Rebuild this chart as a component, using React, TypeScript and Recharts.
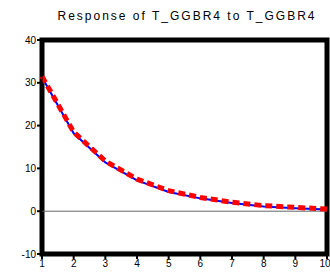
import React from 'react';
import { LineChart, Line, XAxis, YAxis, ReferenceLine, ReferenceArea } from 'recharts';

const periods = [1, 2, 3, 4, 5, 6, 7, 8, 9, 10];
const response = [31.3, 18.2, 11.4, 7.2, 4.5, 3.0, 1.9, 1.1, 0.7, 0.4];
const responseDashed = [31.5, 18.5, 11.7, 7.5, 4.8, 3.2, 2.1, 1.3, 0.9, 0.5];
const yTicks = [-10, 0, 10, 20, 30, 40];

const data = periods.map((p, i) => ({ period: p, blue: response[i], red: responseDashed[i] }));

const font = { fontFamily: '"Liberation Sans", Arial, sans-serif', fontSize: 10, fill: '#000' };

// the frame width set as a prop doesn't stick, so force it with css
const css = `
.irf .recharts-cartesian-axis-tick-line { stroke-width: 2px !important; stroke: #000 !important; }
.irf .recharts-reference-area-rect { stroke-width: 5px !important; stroke: #000 !important; fill: none !important; }
`;

const App: React.FC = () => {
  return (
    <div className="irf" style={{ position: 'absolute', left: 0, top: 0, width: 330, height: 278, background: '#fff' }}>
      <style>{css}</style>
      <div
        style={{
          position: 'absolute',
          left: 0,
          top: 9,
          width: 374,
          textAlign: 'center',
          fontFamily: '"Liberation Sans", Arial, sans-serif',
          fontSize: 12,
          letterSpacing: 2,
          color: '#000',
        }}
      >
        Response of T_GGBR4 to T_GGBR4
      </div>
      <LineChart width={330} height={278} data={data} margin={{ top: 40, right: 3, bottom: 0, left: 0 }}>
        <ReferenceArea x1={1} x2={10} y1={-10} y2={40} fill="none" stroke="#000" fillOpacity={0} />
        <XAxis
          dataKey="period"
          type="number"
          domain={[1, 10]}
          ticks={periods}
          height={24}
          tick={font}
          tickSize={5}
          tickMargin={1}
          stroke="#000"
        />
        <YAxis
          type="number"
          domain={[-10, 40]}
          ticks={yTicks}
          width={42}
          tick={font}
          tickSize={5}
          tickMargin={1}
          stroke="#000"
        />
        <ReferenceLine y={0} stroke="#666" strokeWidth={1} />
        <Line dataKey="blue" stroke="#0000ff" strokeWidth={2} dot={false} isAnimationActive={false} />
        <Line
          dataKey="red"
          stroke="#ff0000"
          strokeWidth={5}
          strokeDasharray="7 4"
          dot={false}
          isAnimationActive={false}
        />
      </LineChart>
    </div>
  );
};

export default App;
